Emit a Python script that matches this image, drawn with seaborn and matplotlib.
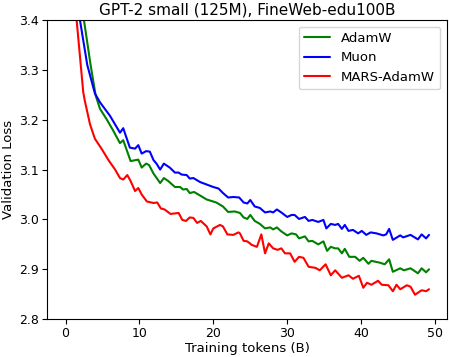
import matplotlib
matplotlib.use("Agg")
import matplotlib.pyplot as plt
import seaborn as sns
import pandas as pd

sns.set_style("ticks")
plt.rcParams['font.family'] = ['DejaVu Sans']
plt.rcParams.update({'text.color': 'black', 'axes.labelcolor': 'black', 'axes.edgecolor': 'black',
                     'xtick.color': 'black', 'ytick.color': 'black'})

# values (tokens in B, validation loss)
adamw_x = [2.0, 2.48, 3.38, 4.06, 4.65, 5.55, 6.45, 7.36, 7.8, 8.8, 9.84, 10.3, 10.9, 11.3, 11.9, 12.8,
           13.3, 13.9, 14.8, 15.5, 15.9, 16.4, 16.8, 17.4, 18.2, 19.1, 20.4, 21.3, 22.0, 22.9, 23.6, 24.1,
           24.6, 25.0, 25.6, 26.3, 27.0, 27.7, 28.1, 28.6, 29.2, 30.0, 30.6, 31.2, 31.6, 32.4, 32.9, 33.4,
           34.2, 34.9, 35.4, 35.9, 36.5, 36.9, 37.4, 37.8, 38.4, 39.2, 39.8, 40.3, 41.0, 41.4, 42.6, 43.2,
           43.8, 44.3, 45.3, 45.8, 46.7, 47.7, 48.2, 48.8, 49.2]
adamw_y = [3.50, 3.40, 3.31, 3.249, 3.222, 3.201, 3.178, 3.153, 3.159, 3.117, 3.120, 3.104, 3.112, 3.109,
           3.092, 3.073, 3.083, 3.077, 3.065, 3.065, 3.060, 3.061, 3.053, 3.055, 3.048, 3.040, 3.034, 3.026,
           3.015, 3.016, 3.013, 3.004, 3.001, 3.009, 2.997, 2.991, 2.982, 2.984, 2.980, 2.984, 2.976, 2.968,
           2.972, 2.970, 2.962, 2.966, 2.956, 2.957, 2.950, 2.956, 2.937, 2.945, 2.942, 2.942, 2.932, 2.941,
           2.925, 2.925, 2.917, 2.923, 2.911, 2.917, 2.913, 2.910, 2.920, 2.895, 2.902, 2.898, 2.902, 2.892,
           2.902, 2.894, 2.900]

muon_x = [1.5, 1.94, 2.93, 3.96, 4.65, 6.0, 7.36, 7.8, 8.7, 9.4, 9.84, 10.3, 10.9, 11.4, 11.9, 12.3, 12.8,
          13.3, 14.1, 14.8, 15.3, 15.7, 16.4, 16.8, 17.3, 18.2, 19.1, 20.0, 20.7, 21.3, 22.0, 22.7, 23.5,
          24.1, 24.6, 25.0, 25.6, 26.3, 27.0, 27.7, 28.1, 28.6, 29.2, 30.0, 30.6, 31.0, 31.6, 32.4, 32.9,
          33.4, 34.2, 34.9, 35.3, 35.9, 36.5, 36.9, 37.4, 37.8, 38.3, 38.9, 39.6, 40.1, 40.7, 41.3, 42.1,
          43.0, 43.4, 43.8, 44.3, 45.3, 45.7, 46.7, 47.7, 48.2, 48.8, 49.2]
muon_y = [3.50, 3.40, 3.31, 3.253, 3.235, 3.208, 3.174, 3.183, 3.144, 3.142, 3.149, 3.132, 3.137, 3.136,
          3.119, 3.112, 3.100, 3.112, 3.104, 3.094, 3.094, 3.090, 3.089, 3.082, 3.083, 3.075, 3.070, 3.065,
          3.062, 3.053, 3.044, 3.045, 3.044, 3.034, 3.032, 3.039, 3.026, 3.023, 3.014, 3.016, 3.014, 3.020,
          3.014, 3.005, 3.009, 3.009, 3.001, 3.005, 2.997, 2.999, 2.995, 2.999, 2.982, 2.991, 2.989, 2.991,
          2.981, 2.989, 2.977, 2.979, 2.972, 2.977, 2.969, 2.974, 2.972, 2.968, 2.970, 2.981, 2.959, 2.968,
          2.964, 2.969, 2.960, 2.970, 2.962, 2.969]

mars_x = [1.1, 1.49, 2.39, 2.6, 3.3, 3.96, 4.9, 5.8, 6.7, 7.36, 7.8, 8.35, 8.8, 9.4, 9.84, 10.3, 11.0,
          11.9, 12.4, 12.9, 13.4, 14.2, 15.3, 15.8, 16.3, 16.8, 17.3, 17.8, 18.3, 19.1, 19.6, 20.0, 20.9,
          21.3, 21.9, 22.7, 23.4, 23.6, 24.1, 24.6, 25.2, 25.9, 26.5, 27.0, 27.5, 28.1, 28.7, 29.2, 29.7,
          30.4, 31.0, 31.6, 32.2, 32.9, 33.8, 34.4, 35.2, 35.9, 36.5, 37.4, 38.3, 38.9, 39.7, 40.3, 40.8,
          41.4, 42.3, 42.8, 43.7, 44.3, 44.8, 45.3, 46.2, 46.7, 47.3, 48.2, 48.8, 49.2]
mars_y = [3.50, 3.40, 3.255, 3.238, 3.191, 3.162, 3.141, 3.119, 3.100, 3.083, 3.080, 3.089, 3.077, 3.057,
          3.063, 3.050, 3.036, 3.033, 3.034, 3.022, 3.020, 3.011, 3.013, 2.999, 2.997, 3.004, 3.003, 2.993,
          2.997, 2.986, 2.970, 2.982, 2.989, 2.986, 2.970, 2.969, 2.974, 2.972, 2.957, 2.956, 2.949, 2.945,
          2.970, 2.932, 2.952, 2.942, 2.939, 2.942, 2.932, 2.932, 2.915, 2.925, 2.923, 2.905, 2.903, 2.898,
          2.910, 2.888, 2.898, 2.883, 2.888, 2.881, 2.887, 2.863, 2.873, 2.869, 2.877, 2.869, 2.868, 2.856,
          2.869, 2.860, 2.868, 2.865, 2.849, 2.858, 2.856, 2.860]

fig = plt.figure(figsize=(4.49, 3.57), dpi=100)
ax = fig.add_axes([0.105, 0.106, 0.89, 0.838])

sns.lineplot(x=adamw_x, y=adamw_y, color="green", label="AdamW", ax=ax, linewidth=1.5)
sns.lineplot(x=muon_x, y=muon_y, color="blue", label="Muon", ax=ax, linewidth=1.5)
sns.lineplot(x=mars_x, y=mars_y, color="red", label="MARS-AdamW", ax=ax, linewidth=1.5)

ax.set_xlim(-2.5, 51.6)
ax.set_ylim(2.8, 3.4)
ax.set_yticks([2.8, 2.9, 3.0, 3.1, 3.2, 3.3, 3.4])
ax.set_xticks([0, 10, 20, 30, 40, 50])
ax.tick_params(labelsize=9, pad=2.5)
ax.set_xlabel("Training tokens (B)", fontsize=9.5, labelpad=1)
ax.set_ylabel("Validation Loss", fontsize=9.5, labelpad=3)
ax.set_title("GPT-2 small (125M), FineWeb-edu100B", fontsize=11, pad=4)
ax.legend(loc="upper right", fontsize=9.5, frameon=True)

fig.savefig("out.png", dpi=100)
